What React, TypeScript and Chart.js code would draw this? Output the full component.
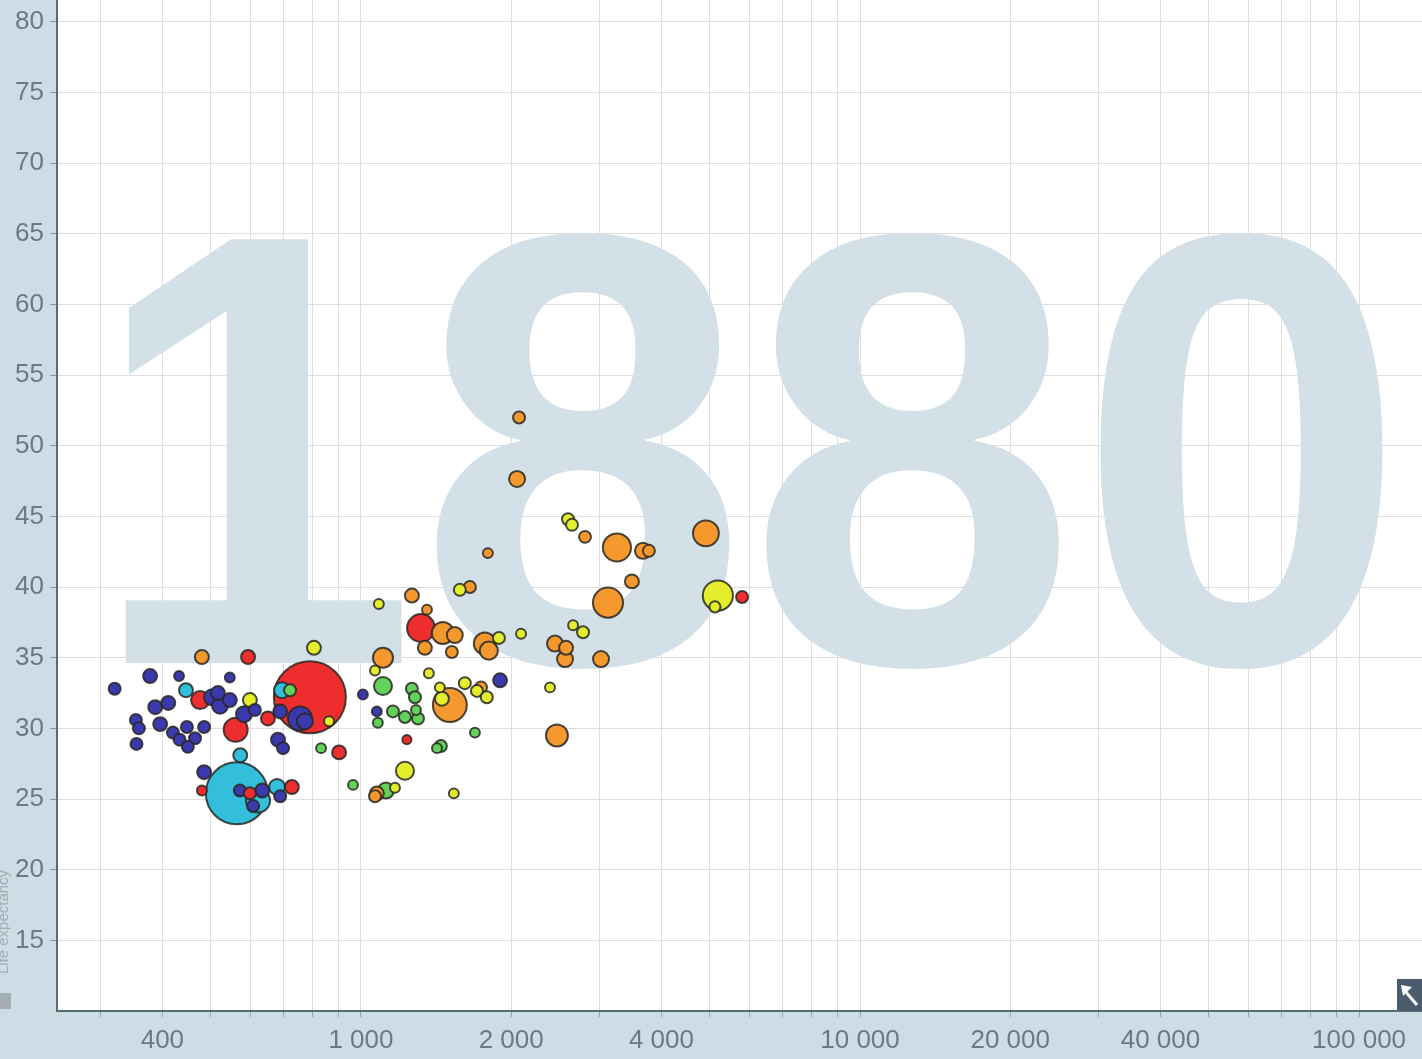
import { useEffect, useRef } from "react";
import { Chart, registerables } from "chart.js";

Chart.register(...registerables);

const YEAR = "1880";
const X_TITLE = "Income per person";
const Y_TITLE = "Life expectancy";

const X_TICKS = [
  300, 400, 500, 600, 700, 800, 900,
  1000, 2000, 3000, 4000, 5000, 6000, 7000, 8000, 9000,
  10000, 20000, 30000, 40000, 50000, 60000, 70000, 80000, 90000,
  100000,
];
const X_LABELED = [400, 1000, 2000, 4000, 10000, 20000, 40000, 100000];
const Y_TICKS = [15, 20, 25, 30, 35, 40, 45, 50, 55, 60, 65, 70, 75, 80];

const REGIONS = [
  "Sub-Saharan Africa",
  "South Asia",
  "East Asia & Pacific",
  "Middle East & North Africa",
  "Europe & Central Asia",
  "America",
];

// Sub-Saharan Africa
const africaIncome = [321, 378, 432, 546, 387, 411, 354, 359, 355, 396, 420, 448, 465, 485, 503, 522, 546, 517, 583, 613, 689, 682, 698, 755, 772, 485, 572, 634, 689, 608, 1009, 1076, 1900, 433, 450];
const africaLife = [32.8, 33.7, 33.7, 33.6, 31.5, 31.8, 30.6, 30.0, 28.9, 30.3, 29.7, 30.1, 29.3, 30.1, 32.2, 31.6, 32.0, 32.5, 31.0, 31.3, 31.2, 29.2, 28.6, 30.7, 30.5, 26.9, 25.6, 25.6, 25.2, 24.5, 32.4, 31.2, 33.4, 29.2, 28.7];
const africaPop = [1.3, 2.9, 0.3, 0.3, 2.9, 2.9, 1.3, 1.3, 1.3, 2.9, 1.3, 1.3, 1.3, 1.3, 5.2, 5.2, 2.9, 2.9, 5.2, 1.3, 2.9, 2.9, 1.3, 21, 5.2, 2.9, 1.3, 2.9, 1.3, 1.3, 0.3, 0.3, 2.9, 1.3, 1.3];

// South Asia
const southAsiaIncome = [564, 446, 573, 622, 679, 695];
const southAsiaLife = [25.4, 32.7, 28.1, 24.9, 25.85, 32.7];
const southAsiaPop = [238, 2.9, 2.9, 21, 5.2, 5.2];

// East Asia & Pacific
const eastAsiaIncome = [790, 476, 561, 651, 594, 480, 599, 727, 904, 1319, 1236, 5804];
const eastAsiaLife = [32.2, 32.0, 29.9, 30.7, 35.05, 25.6, 25.4, 25.85, 28.3, 37.1, 29.2, 39.3];
const eastAsiaPop = [335, 8.2, 21, 2.9, 2.9, 0.3, 1.3, 2.9, 2.9, 32, 0.1, 1.3];

// Middle East & North Africa
const menaIncome = [1107, 1265, 1283, 1159, 1225, 1301, 1289, 1081, 1446, 1420, 1692, 1122, 964, 832, 721];
const menaLife = [33.0, 32.8, 32.2, 31.2, 30.8, 30.7, 31.3, 30.4, 28.75, 28.6, 29.7, 25.6, 26.0, 28.6, 32.7];
const menaPop = [8.2, 1.3, 1.3, 1.3, 1.3, 1.3, 0.3, 0.3, 1.3, 0.3, 0.3, 5.2, 0.3, 0.3, 1.3];

// Europe & Central Asia
const europeIncome = [2074, 2055, 2812, 3258, 3673, 3776, 4912, 3491, 3126, 1796, 1653, 1265, 1356, 1459, 1542, 1343, 1521, 1771, 1804, 1740, 2448, 2576, 2564, 3027, 2470, 1107, 1507, 1076, 1067, 480];
const europeLife = [52.0, 47.65, 43.55, 42.8, 42.56, 42.56, 43.8, 40.4, 38.9, 42.4, 40.0, 39.4, 38.4, 36.75, 36.6, 35.7, 35.4, 36.0, 35.5, 32.9, 36.0, 35.7, 34.9, 34.9, 29.5, 35.0, 31.65, 25.4, 25.2, 35.05];
const europePop = [1.3, 5.2, 1.3, 33, 5.2, 1.3, 26, 2.9, 40, 0.3, 1.3, 2.9, 0.3, 16, 5.2, 2.9, 1.3, 16, 8.2, 1.3, 5.2, 2.9, 5.2, 5.2, 16, 11.8, 55, 2.9, 1.3, 2.9];

// America
const americaIncome = [5190, 599, 1225, 805, 863, 1086, 1067, 1368, 1439, 1453, 1615, 1708, 1787, 2093, 1890, 2392, 2600, 2648, 2661, 2786, 1578, 1170, 1535, 5120];
const americaLife = [39.4, 32.0, 27.0, 35.7, 30.5, 38.8, 34.1, 33.9, 32.9, 32.1, 33.2, 32.65, 32.2, 36.7, 36.4, 32.9, 44.8, 44.4, 37.3, 36.8, 39.8, 25.8, 25.4, 38.6];
const americaPop = [40, 2.9, 8.2, 2.9, 0.3, 0.3, 0.3, 0.3, 0.3, 2.9, 1.3, 1.3, 1.3, 0.3, 1.3, 0.3, 1.3, 1.3, 0.3, 1.3, 1.3, 0.3, 0.3, 0.8];

const REGION_COLORS = ["#3a3aae", "#33bfdc", "#ee2e2e", "#62d25a", "#f5992f", "#e4ee2c"];

const regionData = [
  [africaIncome, africaLife, africaPop],
  [southAsiaIncome, southAsiaLife, southAsiaPop],
  [eastAsiaIncome, eastAsiaLife, eastAsiaPop],
  [menaIncome, menaLife, menaPop],
  [europeIncome, europeLife, europePop],
  [americaIncome, americaLife, americaPop],
];

const PAGE_BG = "#cddde5";
const TICK_COLOR = "#6b7983";
const AXIS_COLOR = "#5c6c77";
const GRID_COLOR = "#dedede";

function radiusFor(pop: number) {
  return 4 + 1.75 * Math.sqrt(pop);
}

function fmt(v: number) {
  return String(v).replace(/\B(?=(\d{3})+(?!\d))/g, " ");
}

const decorPlugin = {
  id: "decor",
  beforeDraw(chart: any) {
    const { ctx, chartArea } = chart;
    ctx.save();
    ctx.fillStyle = PAGE_BG;
    ctx.fillRect(0, 0, chart.width, chart.height);
    ctx.fillStyle = "#ffffff";
    ctx.fillRect(chartArea.left, chartArea.top, chartArea.right - chartArea.left, chartArea.bottom - chartArea.top);
    ctx.restore();
  },
  beforeDatasetsDraw(chart: any) {
    const { ctx, chartArea } = chart;
    ctx.save();
    ctx.beginPath();
    ctx.rect(chartArea.left, chartArea.top, chartArea.right - chartArea.left, chartArea.bottom - chartArea.top);
    ctx.clip();
    ctx.translate((chartArea.left + chartArea.right) / 2 + 8, 663);
    ctx.scale(0.962, 1);
    ctx.font = 'bold 616px "Liberation Sans", Arial, sans-serif';
    ctx.fillStyle = "#d3e0e8";
    ctx.textAlign = "center";
    ctx.textBaseline = "alphabetic";
    ctx.fillText(YEAR, 0, 0);
    ctx.restore();
  },
  afterDraw(chart: any) {
    const { ctx, chartArea } = chart;
    ctx.save();
    // y-axis title (cut at left edge)
    ctx.translate(8, 922);
    ctx.rotate(-Math.PI / 2);
    ctx.font = '15px "Liberation Sans", Arial, sans-serif';
    ctx.fillStyle = "#a2adb3";
    ctx.textAlign = "center";
    ctx.textBaseline = "alphabetic";
    ctx.fillText(Y_TITLE, 0, 0);
    ctx.restore();

    ctx.save();
    ctx.fillStyle = "#a3adb2";
    ctx.fillRect(0, 993, 11, 16);
    // expand icon bottom-right
    const x0 = chartArea.right - 25;
    const y0 = chartArea.bottom - 32;
    ctx.fillStyle = "#4b5c6c";
    ctx.fillRect(x0, y0, 25, 32);
    ctx.strokeStyle = "#ffffff";
    ctx.fillStyle = "#ffffff";
    ctx.lineWidth = 3;
    ctx.beginPath();
    ctx.moveTo(x0 + 20, y0 + 26);
    ctx.lineTo(x0 + 8, y0 + 12);
    ctx.stroke();
    ctx.beginPath();
    ctx.moveTo(x0 + 4, y0 + 6);
    ctx.lineTo(x0 + 15, y0 + 8);
    ctx.lineTo(x0 + 6, y0 + 17);
    ctx.closePath();
    ctx.fill();
    ctx.restore();
  },
};

export default function App() {
  const canvasRef = useRef<HTMLCanvasElement | null>(null);

  useEffect(() => {
    const points: any[] = [];
    regionData.forEach((reg, ri) => {
      const [inc, life, pop] = reg;
      inc.forEach((x, i) => {
        points.push({ x, y: life[i], r: radiusFor(pop[i]), pop: pop[i], color: REGION_COLORS[ri] });
      });
    });
    points.sort((a, b) => b.pop - a.pop);

    const chart = new Chart(canvasRef.current as HTMLCanvasElement, {
      type: "bubble",
      data: {
        datasets: [
          {
            label: REGIONS.join(", "),
            data: points,
            backgroundColor: points.map((p) => p.color),
            borderColor: "rgba(40,40,35,0.85)",
            borderWidth: 2,
          } as any,
        ],
      },
      options: {
        responsive: false,
        animation: false,
        layout: { padding: 0, autoPadding: false },
        plugins: {
          legend: { display: false },
          tooltip: { enabled: false },
          title: { display: false },
        },
        scales: {
          x: {
            type: "logarithmic",
            min: 246,
            max: 133700,
            title: { display: false, text: X_TITLE },
            border: { display: true, color: AXIS_COLOR, width: 2 },
            grid: { color: GRID_COLOR, tickLength: 6, tickColor: "#9aa5ab", lineWidth: 1 },
            ticks: {
              autoSkip: false,
              maxRotation: 0,
              padding: 8,
              color: TICK_COLOR,
              font: { family: '"Liberation Sans", Arial, sans-serif', size: 26 },
              callback: (v: any) => (X_LABELED.includes(Number(v)) ? fmt(Number(v)) : ""),
            },
            afterBuildTicks: (scale: any) => {
              scale.ticks = X_TICKS.map((v) => ({ value: v }));
            },
            afterFit: (scale: any) => {
              scale.height = 48;
              scale.paddingLeft = 0;
              scale.paddingRight = 0;
            },
          },
          y: {
            type: "linear",
            min: 10,
            max: 81.54,
            title: { display: false, text: Y_TITLE },
            border: { display: true, color: AXIS_COLOR, width: 2 },
            grid: { color: GRID_COLOR, tickLength: 7, tickColor: "#8d999f", lineWidth: 1 },
            ticks: {
              autoSkip: false,
              padding: 6,
              color: TICK_COLOR,
              font: { family: '"Liberation Sans", Arial, sans-serif', size: 26 },
              callback: (v: any) => String(v),
            },
            afterBuildTicks: (scale: any) => {
              scale.ticks = Y_TICKS.map((v) => ({ value: v }));
            },
            afterFit: (scale: any) => {
              scale.width = 57;
              scale.paddingTop = 0;
              scale.paddingBottom = 0;
            },
          },
        },
      },
      plugins: [decorPlugin],
    });
    return () => chart.destroy();
  }, []);

  return (
    <div style={{ position: "absolute", left: 0, top: 0, width: 1422, height: 1059, background: PAGE_BG }}>
      <canvas ref={canvasRef} width={1422} height={1059} style={{ display: "block" }} />
    </div>
  );
}
